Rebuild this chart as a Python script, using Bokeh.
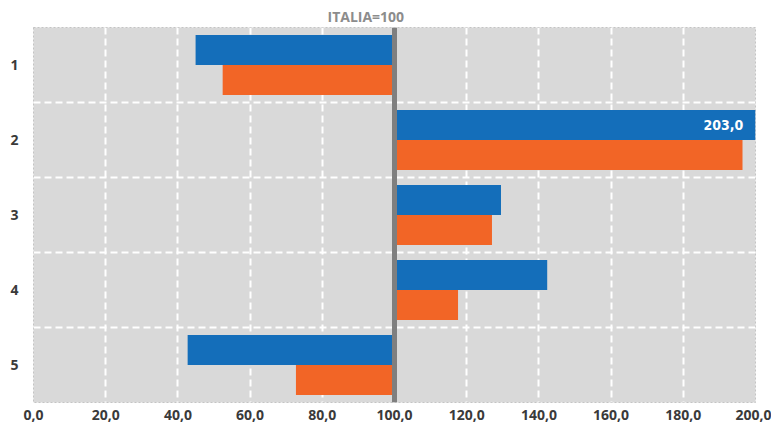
from bokeh.plotting import figure
from bokeh.models import FixedTicker, Span, Label, Range1d
from bokeh.embed import file_html
from bokeh.resources import INLINE

categories = [1, 2, 3, 4, 5]
cat_labels = ["1", "2", "3", "4", "5"]
series_blue = [44.9, 203.0, 129.5, 142.3, 42.7]
series_orange = [52.4, 196.4, 127.0, 117.6, 72.7]
x_ticks = [0, 20, 40, 60, 80, 100, 120, 140, 160, 180, 200]
x_tick_labels = ["0,0", "20,0", "40,0", "60,0", "80,0", "100,0", "120,0", "140,0", "160,0", "180,0", "200,0"]
baseline = 100
title_text = "ITALIA=100"
value_label = "203,0"

BLUE = "#146EBA"
ORANGE = "#F26526"

p = figure(width=771, height=426, output_backend="svg", toolbar_location=None,
           x_range=Range1d(0, 200), y_range=Range1d(5.5, 0.5),
           min_border_left=33, min_border_right=16, min_border_top=27, min_border_bottom=24)

p.title.text = title_text
p.title.align = "left"
p.title.offset = 294
p.title.standoff = 4
p.title.text_font = "Open Sans"
p.title.text_font_style = "bold"
p.title.text_font_size = "14px"
p.title.text_color = "#8c8c8c"

p.background_fill_color = "#d9d9d9"
p.border_fill_color = "white"
p.outline_line_color = "#c4c4c4"
p.outline_line_dash = "2 2"
p.outline_line_width = 1

y_blue = [c - 0.2 for c in categories]
y_orange = [c + 0.2 for c in categories]
p.hbar(y=y_blue, left=baseline, right=series_blue, height=0.4, fill_color=BLUE, line_color=None)
p.hbar(y=y_orange, left=baseline, right=series_orange, height=0.4, fill_color=ORANGE, line_color=None)

# grids
p.xgrid.ticker = FixedTicker(ticks=x_ticks)
p.xgrid.grid_line_color = "white"
p.xgrid.grid_line_dash = "7 4"
p.xgrid.grid_line_width = 2
p.ygrid.ticker = FixedTicker(ticks=[c + 0.5 for c in categories[:-1]])
p.ygrid.grid_line_color = "white"
p.ygrid.grid_line_dash = "7 4"
p.ygrid.grid_line_width = 2

# axes
p.xaxis.ticker = FixedTicker(ticks=x_ticks)
p.xaxis.major_label_overrides = {t: l for t, l in zip(x_ticks, x_tick_labels)}
p.yaxis.ticker = FixedTicker(ticks=categories)
p.yaxis.major_label_overrides = {c: l for c, l in zip(categories, cat_labels)}
for ax in (p.xaxis, p.yaxis):
    ax.axis_line_color = None
    ax.major_tick_line_color = None
    ax.minor_tick_line_color = None
    ax.major_tick_in = 0
    ax.major_tick_out = 0
    ax.minor_tick_in = 0
    ax.minor_tick_out = 0
    ax.major_label_text_font = "Open Sans"
    ax.major_label_text_font_style = "bold"
    ax.major_label_text_font_size = "14px"
    ax.major_label_text_color = "#3a3a3a"
p.xaxis.major_label_standoff = 7
p.yaxis.major_label_standoff = 15

# reference line at 100
p.add_layout(Span(location=baseline, dimension="height", line_color="#7f7f7f", line_width=5))

# value label
p.add_layout(Label(x=series_blue[1], y=y_blue[1], x_offset=-23, text=value_label,
                   text_align="right", text_baseline="middle",
                   text_font="DejaVu Sans Condensed", text_font_style="bold", text_font_size="14px",
                   text_color="white"))

open("out.html", "w").write(file_html(p, INLINE))
